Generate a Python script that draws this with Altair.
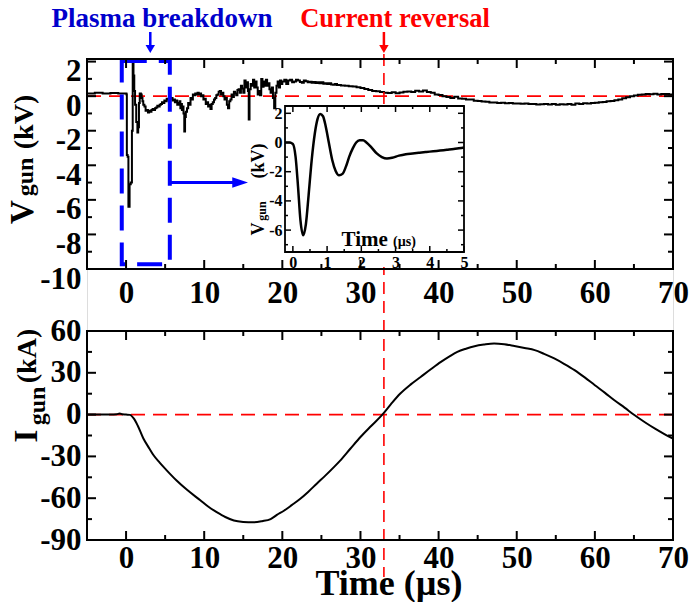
import altair as alt
import pandas as pd

# ---------------- data ----------------
# gun voltage (kV) over the whole shot
v_time = [-5, -4, -3, -2, -1, -0.1, 0.05, 0.1, 0.2, 0.3, 0.45, 0.6, 0.75, 0.85, 0.95,
          1.05, 1.15, 1.3, 1.45, 1.55, 1.65, 1.75, 1.9,
          2.0, 2.1, 2.2, 2.35, 2.5, 2.65, 2.8, 2.95, 3.1, 3.25, 3.4, 3.55, 3.7, 3.85,
          4.0, 4.15, 4.3, 4.45, 4.6, 4.75, 4.9, 5.05, 5.2, 5.35, 5.5, 5.65, 5.8, 5.95,
          6.1, 6.25, 6.4, 6.55, 6.7, 6.85, 6.95, 7.05, 7.15, 7.25, 7.35, 7.45, 7.55, 7.65,
          7.8, 7.95, 8.1, 8.25, 8.4, 8.55, 8.7, 8.85, 9.0, 9.15, 9.3, 9.45, 9.6, 9.75,
          9.9, 10.05, 10.2, 10.35, 10.5, 10.65, 10.8, 10.95, 11.1, 11.25, 11.4, 11.55,
          11.7, 11.85, 12.0, 12.15, 12.3, 12.45, 12.6, 12.75, 12.9, 13.05, 13.2, 13.35,
          13.5, 13.65, 13.8, 13.95, 14.1, 14.25, 14.4, 14.55, 14.7, 14.85, 15.0, 15.15,
          15.3, 15.45, 15.6, 15.7, 15.8, 15.95, 16.1, 16.25, 16.4, 16.55, 16.7, 16.85,
          17.0, 17.15, 17.3, 17.45, 17.6, 17.75, 17.9, 18.05, 18.2, 18.35, 18.5, 18.65,
          18.8, 18.95, 19.1, 19.25, 19.4, 19.55, 19.7, 19.85,
          20.0, 20.25, 20.5, 20.75, 21.0, 21.25, 21.5, 21.75, 22.0, 22.25, 22.5, 22.75,
          23.0, 23.25, 23.5, 23.75, 24.0, 24.25, 24.5, 24.75, 25.0, 25.25, 25.5, 25.75,
          26.0, 26.25, 26.5, 26.75, 27.0, 27.5, 28.0, 28.5, 29.0, 29.5, 30.0, 30.5,
          31.0, 31.5, 32.0, 32.5, 33.0, 33.5, 34.0, 34.5, 35.0, 35.5, 36.0, 36.5, 37.0,
          37.5, 38.0, 38.5, 39.0, 39.5, 40.0, 40.5, 41.0, 41.5, 42.0, 42.5, 43.0, 43.5,
          44.0, 44.5, 45.0, 45.5, 46.0, 46.5, 47.0, 47.5, 48.0, 48.5, 49.0, 49.5, 50.0,
          50.5, 51.0, 51.5, 52.0, 52.5, 53.0, 53.5, 54.0, 54.5, 55.0, 55.5, 56.0, 56.5,
          57.0, 57.5, 58.0, 58.5, 59.0, 59.5, 60.0, 60.5, 61.0, 61.5, 62.0, 62.5, 63.0,
          63.5, 64.0, 64.5, 65.0, 65.5, 66.0, 66.5, 67.0, 67.5, 68.0, 68.5, 69.0, 69.5,
          70.0]
v_gun = [0.15, 0.2, 0.15, 0.18, 0.15, 0.15, 0.1, -3.4, -3.5, -6.4, -5.1, -5.0, -2.0, 2.1, 1.2,
         0.3, -0.5, -1.5, -2.1, -1.8, -0.4, 0.15, 0.1,
         -0.1, -0.3, -0.5, -0.6, -0.85, -0.8, -0.95, -0.85, -0.9, -0.8, -0.75, -0.8, -0.7, -0.65,
         -0.55, -0.6, -0.5, -0.45, -0.35, -0.4, -0.25, -0.3, -0.15, -0.2, -0.05, -0.15, -0.1, -0.25,
         -0.2, -0.35, -0.25, -0.5, -0.4, -0.3, -0.7, -0.45, -0.8, -0.6, -1.0, -2.05, -1.2, -0.9,
         -0.7, -0.4, -0.5, -0.1, -0.2, 0.1, 0.05, 0.15, 0.1, 0.2, 0.1, 0.15, 0.0, 0.05,
         -0.2, -0.15, -0.45, -0.35, -0.6, -0.5, -0.75, -0.45, -0.35, -0.2, -0.1, 0.05,
         0.1, 0.25, 0.3, 0.1, 0.2, 0.0, -0.2, -0.1, -0.5, -0.7, -0.3, -0.2,
         0.1, -0.05, 0.25, 0.15, 0.05, 0.35, 0.4, 0.2, 0.6, 0.45, 0.2, 0.9,
         0.5, 0.8, 0.3, -1.35, 0.4, 0.7, 0.6, 0.95, 0.5, 0.85, 0.5, 0.1,
         0.3, 0.05, 1.0, 0.55, 0.85, 0.6, 0.95, 0.6, 0.75, 0.4, 0.2, 0.5,
         -0.1, -0.7, 0.2, 0.6, 0.85, 0.5, 0.9, 0.7,
         0.85, 0.95, 0.7, 0.9, 0.95, 0.8, 0.85, 0.95, 0.9, 0.82, 0.78, 0.9,
         0.86, 0.8, 0.84, 0.78, 0.82, 0.76, 0.8, 0.74, 0.8, 0.72, 0.75, 0.7,
         0.74, 0.68, 0.66, 0.7, 0.65, 0.62, 0.6, 0.58, 0.56, 0.52, 0.47, 0.42,
         0.36, 0.3, 0.28, 0.24, 0.2, 0.18, 0.23, 0.17, 0.21, 0.26, 0.27, 0.24, 0.31,
         0.27, 0.33, 0.24, 0.2, 0.09, 0.06, -0.01, -0.05, -0.11, -0.04, -0.13, -0.15, -0.19,
         -0.2, -0.26, -0.28, -0.31, -0.33, -0.36, -0.37, -0.4, -0.38, -0.41, -0.4, -0.43, -0.42,
         -0.44, -0.43, -0.46, -0.45, -0.48, -0.47, -0.45, -0.48, -0.46, -0.49, -0.47, -0.48, -0.46,
         -0.49, -0.42, -0.45, -0.41, -0.42, -0.39, -0.38, -0.35, -0.34, -0.3, -0.28, -0.23, -0.19,
         -0.12, -0.06, 0.0, 0.04, 0.08, 0.1, 0.13, 0.11, 0.14, 0.1, 0.13, 0.12, 0.1,
         0.12]

# gun current (kA)
i_time = [-5, -2, -1.2, -0.8, -0.5, 0, 0.5, 1.0, 1.5, 2.2, 3.0, 3.5, 4.3, 5.2, 6.5, 7.8,
          9.5, 10.5, 11.6, 12.7, 13.8, 15.0, 16.3, 17.4, 18.5, 19.3, 20.2, 21.2, 22.3,
          23.3, 24.4, 25.5, 26.6, 27.4, 28.7, 30.0, 31.4, 32.8, 33.9, 35.1, 36.4, 37.7,
          39.0, 40.3, 41.4, 42.4, 43.5, 44.6, 45.8, 47.1, 48.4, 49.7, 51.0, 52.3, 53.5,
          54.8, 56.1, 57.4, 58.7, 60.0, 61.3, 62.5, 63.8, 65.1, 66.4, 67.7, 68.9, 70.0]
i_gun = [0, 0, 0.3, 0.8, 0.2, 0, -0.2, -2.9, -8, -17, -24.5, -29, -34.5, -40, -47.5, -54,
         -61.5, -66, -70, -73.5, -76, -77, -77.3, -76.5, -75, -72, -69, -65, -60.4,
         -55.5, -49.6, -43.8, -37.7, -33, -24.5, -16.1, -8, 0, 7.5, 15.1, 21.5, 27,
         32.5, 37.8, 41.8, 45, 47.3, 49.1, 50.3, 51.1, 50.5, 49.2, 47.8, 46.3, 43.6,
         40.3, 36.3, 31.9, 26.7, 21.1, 15.6, 10.3, 5, -0.5, -5.5, -10.1, -14, -17.3]

# first 5 us of the gun voltage (inset)
ins_time = [-0.23, -0.1, 0.0, 0.08, 0.15, 0.22, 0.30, 0.38, 0.46, 0.55, 0.64, 0.72, 0.80,
            0.88, 0.96, 1.05, 1.15, 1.25, 1.35, 1.45, 1.55, 1.65, 1.75, 1.85, 1.95, 2.05,
            2.15, 2.3, 2.45, 2.6, 2.75, 2.9, 3.1, 3.3, 3.5, 3.7, 3.9, 4.1, 4.3, 4.5, 4.7,
            4.85, 5.0]
ins_v = [0.0, 0.0, -0.1, -1.0, -3.0, -5.3, -6.35, -5.6, -3.6, -1.2, 0.6, 1.6, 1.95,
         1.8, 1.1, 0.0, -1.2, -1.95, -2.25, -2.15, -1.65, -0.95, -0.4, 0.0, 0.15, 0.15,
         0.0, -0.35, -0.75, -1.0, -1.1, -1.05, -0.9, -0.8, -0.75, -0.7, -0.65, -0.6, -0.55,
         -0.5, -0.45, -0.4, -0.35]

# axis ticks
x_major = [0, 10, 20, 30, 40, 50, 60, 70]
x_minor = [-5, 5, 15, 25, 35, 45, 55, 65]
vt_major = [-10, -8, -6, -4, -2, 0, 2]
vt_minor = [-9, -7, -5, -3, -1, 1]
it_major = [-90, -60, -30, 0, 30, 60]
it_minor = [-75, -45, -15, 15, 45]
ins_x_major = [0, 1, 2, 3, 4, 5]
ins_x_minor = [0.5, 1.5, 2.5, 3.5, 4.5]
ins_y_major = [-6, -4, -2, 0, 2]
ins_y_minor = [-7, -5, -3, -1, 1]

# annotations
reversal_t = [33.0]
breakdown_t = [3.1]
box_t = [-0.55, 5.6]
box_v = [-9.72, 2.04]
zoom_arrow_t = [5.6, 14.6]
zoom_arrow_v = [-5.0]

# ---------------- layout ----------------
W, H = 586, 481          # drawing area holding both panels
TOP_H = 210              # bottom edge of the voltage panel
BOT_Y0 = 272             # top edge of the current panel
INS = (198, 377, 47, 193)  # inset frame: x0, x1, y0, y1
FONT = "Liberation Serif, Tinos, Times New Roman, DejaVu Serif, serif"
BLUE = "#0000ff"
RED = "#ff0000"

x_main = alt.Scale(domain=[-5, 70], range=[0, W], nice=False, zero=False)
y_top = alt.Scale(domain=[-10, 2.15], range=[TOP_H, 0], nice=False, zero=False)
y_bot = alt.Scale(domain=[-90, 60], range=[H, BOT_Y0], nice=False, zero=False)
x_ins = alt.Scale(domain=[-0.23, 5], range=[INS[0], INS[1]], nice=False, zero=False)
y_ins = alt.Scale(domain=[-7.5, 2.5], range=[INS[3], INS[2]], nice=False, zero=False)

MINUS_FIX = "replace(datum.label, '\u2212', '-')"


def axis(orient, values, size, offset=0, pad=4, label_offset=0):
    return alt.Axis(orient=orient, values=values, offset=offset, labelPadding=pad,
                    labelOffset=label_offset, ticks=False, domain=False, grid=False,
                    title=None, labelFont=FONT, labelFontSize=size, labelFontWeight="bold",
                    labelColor="black", labelFlush=False, labelOverlap=False,
                    labelExpr=MINUS_FIX, zindex=2)


def one():
    return alt.InlineData(values=[{}])


def xticks(vals, scale, ybase, length, width=2):
    return alt.Chart(pd.DataFrame({"v": vals})).mark_rule(color="black", strokeWidth=width).encode(
        x=alt.X("v:Q", scale=scale, axis=None),
        y=alt.value(ybase), y2=alt.value(ybase + length))


def yticks(vals, scale, xbase, length, width=2):
    return alt.Chart(pd.DataFrame({"v": vals})).mark_rule(color="black", strokeWidth=width).encode(
        y=alt.Y("v:Q", scale=scale, axis=None),
        x=alt.value(xbase), x2=alt.value(xbase + length))


def frame(x0, x1, y0, y1, width=2):
    return alt.Chart(one()).mark_rect(fillOpacity=0, stroke="black", strokeWidth=width).encode(
        x=alt.value(x0), x2=alt.value(x1), y=alt.value(y0), y2=alt.value(y1))


def label(text, x, y, size, color="black", angle=0, align="center", baseline="alphabetic"):
    return alt.Chart(one()).mark_text(
        text=text, font=FONT, fontWeight="bold", fontSize=size, color=color,
        angle=angle, align=align, baseline=baseline).encode(x=alt.value(x), y=alt.value(y))


layers = []

# red zero lines
layers.append(alt.Chart(pd.DataFrame({"v": [0]})).mark_rule(
    color=RED, strokeWidth=1.6, strokeDash=[14, 8]).encode(
    y=alt.Y("v:Q", scale=y_top, axis=None), x=alt.value(0), x2=alt.value(W)))
layers.append(alt.Chart(pd.DataFrame({"v": [0]})).mark_rule(
    color=RED, strokeWidth=1.6, strokeDash=[14, 8]).encode(
    y=alt.Y("v:Q", scale=y_bot, axis=None), x=alt.value(0), x2=alt.value(W)))

# voltage trace (with the voltage panel axes), sampled signal drawn as steps
df_v = pd.DataFrame({"t": v_time, "v": v_gun})
layers.append(alt.Chart(df_v).mark_line(color="black", strokeWidth=2, interpolate="step-after").encode(
    x=alt.X("t:Q", scale=x_main, axis=axis("bottom", x_major, 31, offset=TOP_H - H, pad=9)),
    y=alt.Y("v:Q", scale=y_top, axis=axis("left", vt_major, 31, pad=6, label_offset=10)),
    order="t:Q"))

# current trace (with the current panel axes)
df_i = pd.DataFrame({"t": i_time, "i": i_gun})
layers.append(alt.Chart(df_i).mark_line(color="black", strokeWidth=2, interpolate="monotone").encode(
    x=alt.X("t:Q", scale=x_main, axis=axis("bottom", x_major, 31, pad=3)),
    y=alt.Y("i:Q", scale=y_bot, axis=axis("left", it_major, 31, pad=6)),
    order="t:Q"))

# current reversal marker
layers.append(alt.Chart(pd.DataFrame({"t": reversal_t})).mark_rule(
    color=RED, strokeWidth=1.6, strokeDash=[12, 7]).encode(
    x=alt.X("t:Q", scale=x_main, axis=None), y=alt.value(-5), y2=alt.value(518)))

# breakdown window and zoom arrow
layers.append(alt.Chart(pd.DataFrame({"t0": [box_t[0]], "t1": [box_t[1]],
                                      "v0": [box_v[0]], "v1": [box_v[1]]})).mark_rect(
    fillOpacity=0, stroke=BLUE, strokeWidth=4, strokeDash=[25, 12]).encode(
    x=alt.X("t0:Q", scale=x_main, axis=None), x2="t1:Q",
    y=alt.Y("v0:Q", scale=y_top, axis=None), y2="v1:Q"))
layers.append(alt.Chart(pd.DataFrame({"t0": [zoom_arrow_t[0]], "t1": [zoom_arrow_t[1]],
                                      "v": zoom_arrow_v})).mark_rule(
    color=BLUE, strokeWidth=3).encode(
    x=alt.X("t0:Q", scale=x_main, axis=None), x2="t1:Q",
    y=alt.Y("v:Q", scale=y_top, axis=None)))
layers.append(alt.Chart(pd.DataFrame({"t": [zoom_arrow_t[1]], "v": zoom_arrow_v})).mark_point(
    shape="M-1.5,-1L1.5,0L-1.5,1Z", filled=True, size=110, color=BLUE, opacity=1).encode(
    x=alt.X("t:Q", scale=x_main, axis=None), y=alt.Y("v:Q", scale=y_top, axis=None)))

# inset
layers.append(alt.Chart(one()).mark_rect(color="white").encode(
    x=alt.value(INS[0]), x2=alt.value(INS[1] + 2), y=alt.value(INS[2]), y2=alt.value(TOP_H - 2)))
df_ins = pd.DataFrame({"t": ins_time, "v": ins_v})
layers.append(alt.Chart(df_ins).mark_line(color="black", strokeWidth=2.5, interpolate="monotone").encode(
    x=alt.X("t:Q", scale=x_ins, axis=axis("bottom", ins_x_major, 16, offset=INS[3] - H, pad=2)),
    y=alt.Y("v:Q", scale=y_ins, axis=axis("left", ins_y_major, 16, offset=-INS[0], pad=3)),
    order="t:Q"))
layers += [
    xticks(ins_x_major, x_ins, INS[3], -6, 1.5), xticks(ins_x_minor, x_ins, INS[3], -3, 1.5),
    xticks(ins_x_major, x_ins, INS[2], 6, 1.5), xticks(ins_x_minor, x_ins, INS[2], 3, 1.5),
    yticks(ins_y_major, y_ins, INS[0], 6, 1.5), yticks(ins_y_minor, y_ins, INS[0], 3, 1.5),
    yticks(ins_y_major, y_ins, INS[1], -6, 1.5), yticks(ins_y_minor, y_ins, INS[1], -3, 1.5),
    frame(INS[0], INS[1], INS[2], INS[3], 1.8),
]

# panel frames and inward ticks
for y0, y1, ys, ymaj, ymin in [(0, TOP_H, y_top, vt_major, vt_minor),
                                (BOT_Y0, H, y_bot, it_major, it_minor)]:
    layers += [
        xticks(x_major, x_main, y1, -9), xticks(x_minor, x_main, y1, -5),
        xticks(x_major, x_main, y0, 9), xticks(x_minor, x_main, y0, 5),
        yticks(ymaj, ys, 0, 9), yticks(ymin, ys, 0, 5),
        yticks(ymaj, ys, W, -9), yticks(ymin, ys, W, -5),
        frame(0, W, y0, y1, 2),
    ]

# arrows pointing at the two events
for t, col in [(breakdown_t, BLUE), (reversal_t, RED)]:
    layers.append(alt.Chart(pd.DataFrame({"t": t})).mark_rule(color=col, strokeWidth=2.5).encode(
        x=alt.X("t:Q", scale=x_main, axis=None), y=alt.value(-27), y2=alt.value(-14)))
    layers.append(alt.Chart(pd.DataFrame({"t": t})).mark_point(
        shape="triangle-down", filled=True, size=90, color=col, opacity=1).encode(
        x=alt.X("t:Q", scale=x_main, axis=None), y=alt.value(-10)))

# titles and annotations
layers += [
    label("Plasma breakdown", 75, -32, 27, color="#0000cc"),
    label("Current reversal", 308, -32, 26.5, color=RED),
    label("V", -54, 153, 33, angle=270),
    label("gun", -54, 118, 24, angle=270),
    label("(kV)", -54, 63, 28, angle=270),
    label("I", -50, 377, 33, angle=270),
    label("gun", -42, 347, 24, angle=270),
    label("(kA)", -51, 297, 28, angle=270),
    label("Time (\u00b5s)", 302, 536, 36),
    label("Time", 254.5, 187, 21, align="left"),
    label("(\u00b5s)", 306, 187, 14, align="left"),
    label("V", 177, 170, 18, angle=270),
    label("gun", 179, 152, 12, angle=270),
    label("(kV)", 177, 102, 18, angle=270),
]

chart = alt.layer(*layers).resolve_scale(x="independent", y="independent").properties(
    width=W, height=H,
    autosize=alt.AutoSizeParams(type="none"),
    padding={"left": 87, "top": 59, "right": 16, "bottom": 62},
).configure_view(stroke=None).configure(background="white")

chart.save("out.html", embed_options={"renderer": "svg", "actions": False})
